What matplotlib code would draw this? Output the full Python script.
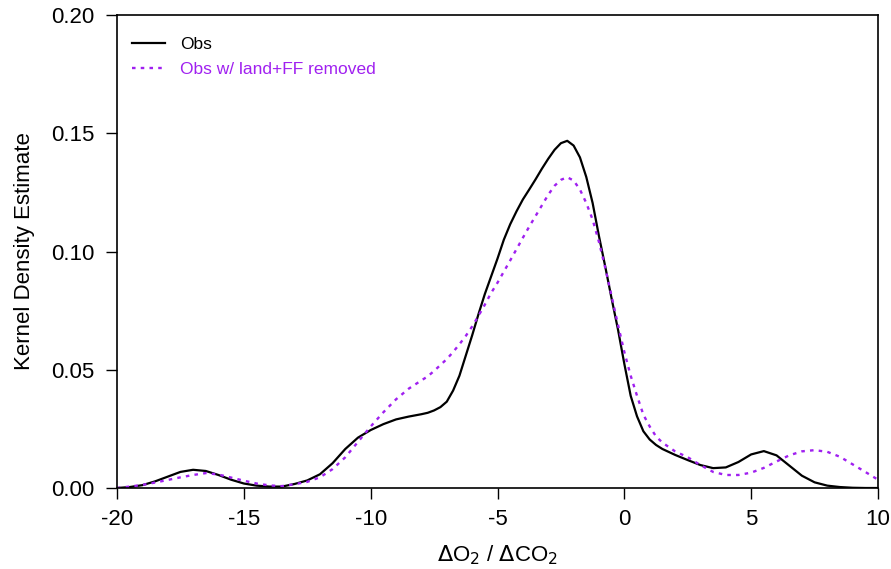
import matplotlib
matplotlib.use("Agg")
import matplotlib.pyplot as plt

plt.rcParams["font.family"] = ["Liberation Sans", "DejaVu Sans"]

# KDE values (same x grid for both series)
x_grid = [-20, -19.5, -19, -18.5, -18, -17.5, -17, -16.5, -16, -15.5, -15, -14.5, -14, -13.5,
          -13, -12.5, -12, -11.5, -11, -10.5, -10, -9.5, -9, -8.5, -8, -7.75, -7.5, -7.25,
          -7, -6.75, -6.5, -6.25, -6, -5.75, -5.5, -5.25, -5, -4.75, -4.5, -4.25, -4, -3.75,
          -3.5, -3.25, -3, -2.75, -2.5, -2.25, -2, -1.75, -1.5, -1.25, -1, -0.75, -0.5,
          -0.25, 0, 0.25, 0.5, 0.75, 1, 1.25, 1.5, 2, 2.5, 3, 3.5, 4, 4.5, 5, 5.5, 6, 6.5,
          7, 7.5, 8, 8.5, 9, 9.5, 10]
kde_obs = [0.0, 0.0004, 0.0012, 0.0028, 0.0048, 0.0068, 0.0077, 0.0072, 0.0055, 0.0035,
           0.0019, 0.0010, 0.0006, 0.0006, 0.0017, 0.0032, 0.0058, 0.0105, 0.0165, 0.0213,
           0.0245, 0.0270, 0.0290, 0.0302, 0.0312, 0.0318, 0.0328, 0.0342,
           0.0365, 0.0412, 0.0475, 0.0560, 0.0645, 0.0735, 0.0820, 0.0895, 0.0970, 0.1050,
           0.1115, 0.1170, 0.1220, 0.1262,
           0.1305, 0.1350, 0.1392, 0.1430, 0.1458, 0.1468, 0.1448, 0.1398, 0.1315, 0.1205,
           0.1065, 0.0935, 0.0800,
           0.0670, 0.0525, 0.0390, 0.0303, 0.0240, 0.0205, 0.0182, 0.0165, 0.0140, 0.0118,
           0.0097, 0.0084, 0.0087, 0.0110, 0.0142, 0.0156, 0.0138, 0.0095,
           0.0052, 0.0024, 0.0010, 0.0004, 0.0001, 0.0, 0.0]
kde_removed = [0.0, 0.0006, 0.0013, 0.0023, 0.0034, 0.0045, 0.0055, 0.0063, 0.0057, 0.0044,
               0.0031, 0.0019, 0.0011, 0.0008, 0.0016, 0.0026, 0.0045, 0.0080, 0.0130, 0.0195,
               0.0260, 0.0320, 0.0375, 0.0420, 0.0455, 0.0472, 0.0495, 0.0520,
               0.0545, 0.0575, 0.0608, 0.0643, 0.0683, 0.0728, 0.0775, 0.0825, 0.0868, 0.0915,
               0.0962, 0.1010, 0.1058, 0.1105,
               0.1150, 0.1195, 0.1240, 0.1278, 0.1303, 0.1314, 0.1300, 0.1262, 0.1205, 0.1135,
               0.1040, 0.0930, 0.0810,
               0.0690, 0.0575, 0.0475, 0.0390, 0.0310, 0.0260, 0.0218, 0.0192, 0.0155, 0.0130,
               0.0097, 0.0068, 0.0055, 0.0055, 0.0065, 0.0085, 0.0112, 0.0138,
               0.0155, 0.0160, 0.0153, 0.0132, 0.0100, 0.0068, 0.0035]

xticks = [-20, -15, -10, -5, 0, 5, 10]
yticks = [0.00, 0.05, 0.10, 0.15, 0.20]
purple = "#a020f0"

fig = plt.figure(figsize=(8.91, 5.69), dpi=100)
ax = fig.add_axes([117 / 891, 1 - 488 / 569, (878 - 117) / 891, (488 - 15) / 569])

ax.plot(x_grid, kde_obs, color="black", linewidth=1.6, label="Obs")
ax.plot(x_grid, kde_removed, color=purple, linewidth=1.7, linestyle=(0, (1.5, 2.2)),
        label="Obs w/ land+FF removed")

ax.set_xlim(-20, 10)
ax.set_ylim(0, 0.20)
ax.set_xticks(xticks)
ax.set_xticklabels([str(t) for t in xticks])
ax.set_yticks(yticks)
ax.set_yticklabels([f"{t:.2f}" for t in yticks])
ax.tick_params(direction="out", length=8, width=1.0, labelsize=16)
ax.tick_params(axis="x", pad=7)
ax.tick_params(axis="y", pad=8)
for s in ax.spines.values():
    s.set_linewidth(1.2)

ax.set_xlabel(r"$\Delta$O$_2$ / $\Delta$CO$_2$", fontsize=16, labelpad=10)
ax.set_ylabel("Kernel Density Estimate", fontsize=16, labelpad=12)

leg = ax.legend(loc="upper left", bbox_to_anchor=(0.0105, 0.968), borderaxespad=0,
                frameon=False, fontsize=12.5, handlelength=1.9,
                handletextpad=0.86, labelspacing=0.58)
leg.get_texts()[1].set_color(purple)

fig.savefig("out.png", dpi=100)
